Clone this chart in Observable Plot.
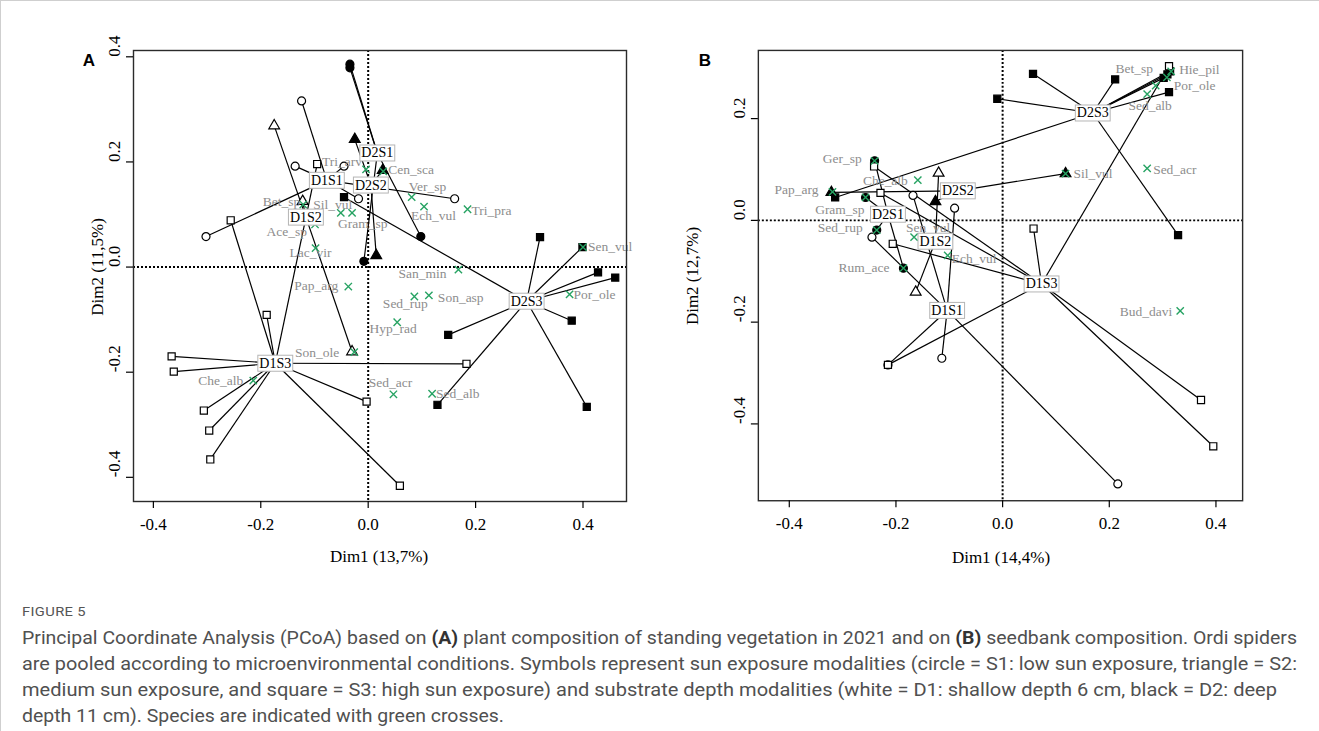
<!DOCTYPE html>
<html>
<head>
<meta charset="utf-8">
<script src="https://cdn.jsdelivr.net/npm/d3@7"></script>
<script src="https://cdn.jsdelivr.net/npm/@observablehq/plot@0.6"></script>
<style>
  html, body { margin: 0; padding: 0; background: #fff; }
  #page { position: relative; width: 1319px; height: 731px; overflow: hidden; border-top: 1px solid #cfcfcf; border-left: 1px solid #cfcfcf; box-sizing: border-box; }
  .panel { position: absolute; top: 0; }
  .plabel { position: absolute; font-family: "Liberation Sans", Arial, sans-serif; font-weight: bold; font-size: 17px; transform: translate(-50%, -50%); }
  .atitle { position: absolute; font-family: "Liberation Serif", serif; font-size: 17px; white-space: nowrap; transform: translate(-50%, -50%); }
  .atitle.rot { transform: translate(-50%, -50%) rotate(-90deg); }
  .cap { position: absolute; left: 21px; white-space: nowrap; font-family: "Liberation Sans Narrow", "Roboto", sans-serif; color: #505050; transform-origin: 0 50%; }
  .capline { font-size: 17.5px; }
  .capline b { color: #333; }
  .fig { font-size: 12.5px; letter-spacing: 0.3px; color: #555; }
</style>
</head>
<body>
<div id="page">
  <div class="panel" id="panelA" style="left:0px"></div>
  <div class="panel" id="panelB" style="left:660px"></div>
  <div class="plabel" style="left:88px; top:60px">A</div>
  <div class="plabel" style="left:704px; top:60px">B</div>
  <div class="atitle rot" style="left:97px; top:266px">Dim2 (11,5%)</div>
  <div class="atitle" style="left:378px; top:556px">Dim1 (13,7%)</div>
  <div class="atitle rot" style="left:692px; top:275px">Dim2 (12,7%)</div>
  <div class="atitle" style="left:1000px; top:557px">Dim1 (14,4%)</div>
  <div class="cap fig" style="top:603px" data-w="64">FIGURE 5</div>
  <div class="cap capline" style="top:627px" data-w="1275">Principal Coordinate Analysis (PCoA) based on <b>(A)</b> plant composition of standing vegetation in 2021 and on <b>(B)</b> seedbank composition. Ordi spiders</div>
  <div class="cap capline" style="top:653px" data-w="1275">are pooled according to microenvironmental conditions. Symbols represent sun exposure modalities (circle = S1: low sun exposure, triangle = S2:</div>
  <div class="cap capline" style="top:679px" data-w="1255">medium sun exposure, and square = S3: high sun exposure) and substrate depth modalities (white = D1: shallow depth 6 cm, black = D2: deep</div>
  <div class="cap capline" style="top:705px" data-w="482">depth 11 cm). Species are indicated with green crosses.</div>
</div>
<script>
// ---------------- DATA : panel A (standing vegetation) ----------------
const xTicks = [-0.4, -0.2, 0.0, 0.2, 0.4];
const yTicksA = [-0.4, -0.2, 0.0, 0.2, 0.4];
const yTicksB = [-0.4, -0.2, 0.0, 0.2];

const centroidNamesA = ["D1S1", "D1S2", "D2S1", "D2S2", "D1S3", "D2S3"];
const centroidXA = [-0.077, -0.116, 0.017, 0.005, -0.173, 0.295];
const centroidYA = [0.165, 0.095, 0.217, 0.156, -0.183, -0.065];

const memberGroupA = [
  "D1S1","D1S1","D1S1","D1S1","D1S1","D1S1",
  "D1S2","D1S2","D1S2",
  "D2S1","D2S1","D2S1","D2S1",
  "D2S2","D2S2","D2S2",
  "D1S3","D1S3","D1S3","D1S3","D1S3","D1S3","D1S3","D1S3","D1S3","D1S3","D1S3",
  "D2S3","D2S3","D2S3","D2S3","D2S3","D2S3","D2S3","D2S3","D2S3"
];
const memberXA = [
  -0.124, -0.136, -0.045, -0.302, -0.018, 0.161,
  -0.175, -0.122, -0.030,
  -0.034, -0.034, -0.008, 0.098,
  -0.025, 0.027, 0.015,
  -0.256, -0.095, -0.189, -0.366, -0.362, -0.306, -0.296, -0.294, -0.003, 0.183, 0.059,
  0.320, 0.399, 0.428, 0.460, 0.379, 0.149, 0.129, 0.407, -0.045
];
const memberYA = [
  0.316, 0.192, 0.192, 0.058, 0.130, 0.130,
  0.269, 0.125, -0.161,
  0.386, 0.379, 0.011, 0.058,
  0.243, 0.184, 0.022,
  0.089, 0.196, -0.091, -0.170, -0.199, -0.273, -0.311, -0.366, -0.256, -0.184, -0.416,
  0.057, 0.038, -0.010, -0.020, -0.102, -0.129, -0.262, -0.266, 0.133
];

const speciesA = ["Tri_arv","Cen_sca","Ver_sp","Ech_vul","Tri_pra","Bet_sp","Sil_vul","Gram_sp","Ace_sp","Lac_vir","Pap_arg","Son_ole","Che_alb","Hyp_rad","San_min","Sed_rup","Son_asp","Sed_acr","Sed_alb","Por_ole","Sen_vul"];
const speciesXA = [-0.004, 0.028, 0.081, 0.104, 0.185, -0.121, -0.051, -0.030, -0.099, -0.098, -0.037, -0.026, -0.214, 0.054, 0.168, 0.086, 0.113, 0.047, 0.119, 0.375, 0.400];
const speciesYA = [0.186, 0.182, 0.133, 0.115, 0.110, 0.119, 0.103, 0.103, 0.081, 0.036, -0.037, -0.162, -0.216, -0.105, -0.005, -0.056, -0.054, -0.242, -0.241, -0.052, 0.038];

// ---------------- DATA : panel B (seedbank) ----------------
const centroidNamesB = ["D2S3", "D2S2", "D2S1", "D1S2", "D1S3", "D1S1"];
const centroidXB = [0.169, -0.084, -0.215, -0.126, 0.073, -0.104];
const centroidYB = [0.211, 0.058, 0.012, -0.041, -0.125, -0.177];

const memberGroupB = [
  "D2S1","D2S1","D2S1","D2S1",
  "D2S2","D2S2","D2S2",
  "D2S3","D2S3","D2S3","D2S3","D2S3","D2S3","D2S3","D2S3","D2S3",
  "D1S2","D1S2",
  "D1S1","D1S1","D1S1","D1S1","D1S1","D1S1",
  "D1S3","D1S3","D1S3","D1S3","D1S3","D1S3","D1S3","D1S3"
];
const memberXB = [
  -0.240, -0.257, -0.236, -0.186,
  -0.321, -0.126, 0.118,
  -0.314, -0.010, 0.057, 0.211, 0.302, 0.309, 0.314, 0.312, 0.329,
  -0.120, -0.163,
  -0.168, -0.090, -0.245, -0.114, 0.216, -0.215,
  -0.241, -0.229, -0.206, 0.058, 0.312, 0.372, 0.395, -0.215
];
const memberYB = [
  0.117, 0.045, -0.019, -0.094,
  0.055, 0.037, 0.092,
  0.045, 0.239, 0.288, 0.277, 0.280, 0.287, 0.293, 0.252, -0.029,
  0.093, -0.141,
  0.049, 0.024, -0.033, -0.271, -0.518, -0.284,
  0.106, 0.054, -0.046, -0.016, 0.303, -0.353, -0.444, -0.284
];

const speciesB = ["Ger_sp","Che_alb","Pap_arg","Gram_sp","Sed_rup","Rum_ace","Sen_vul","Ech_vul","Sil_vul","Sed_acr","Sed_alb","Por_ole","Bet_sp","Hie_pil","Bud_davi"];
const speciesXB = [-0.240, -0.159, -0.319, -0.257, -0.236, -0.186, -0.166, -0.103, 0.118, 0.271, 0.271, 0.287, 0.308, 0.316, 0.333];
const speciesYB = [0.117, 0.079, 0.056, 0.045, -0.019, -0.094, -0.033, -0.069, 0.092, 0.102, 0.248, 0.265, 0.281, 0.293, -0.178];

// ---------------- label placement (style: pixel offsets, anchor) ----------------
const placeA = {
  Tri_arv: [-4, -8, "end"], Cen_sca: [5, -2, "start"], Ver_sp: [-3, -10, "start"],
  Ech_vul: [-13, 9, "start"], Tri_pra: [4, 1, "start"], Bet_sp: [-3, -3, "end"],
  Sil_vul: [-8, -8, "middle"], Gram_sp: [-14, 11, "start"], Ace_sp: [-8, 7, "end"],
  Lac_vir: [-26, 5, "start"], Pap_arg: [-10, -1, "end"], Son_ole: [-15, 0, "end"],
  Che_alb: [-10, 0, "end"], Hyp_rad: [-4, 6, "middle"], San_min: [-12, 4, "end"],
  Sed_rup: [-9, 7, "middle"], Son_asp: [9, 2, "start"], Sed_acr: [-3, -12, "middle"],
  Sed_alb: [4, 0, "start"], Por_ole: [4, 0, "start"], Sen_vul: [5, 0, "start"]
};
const placeB = {
  Ger_sp: [-13, -2, "end"], Che_alb: [-10, 0, "end"], Pap_arg: [-14, -2, "end"],
  Gram_sp: [-1, 12, "end"], Sed_rup: [-14, -2, "end"], Rum_ace: [-14, -1, "end"],
  Sen_vul: [-8, -10, "start"], Ech_vul: [4, 3, "start"], Sil_vul: [8, 0, "start"],
  Sed_acr: [6, 1, "start"], Sed_alb: [3, 12, "middle"], Por_ole: [18, 0, "start"],
  Bet_sp: [-14, -9, "end"], Hie_pil: [8, -2, "start"], Bud_davi: [-8, 1, "end"]
};

// ---------------- helpers ----------------
const fmt = d => d.toFixed(1);
const shapeOf = g => g.endsWith("S1") ? "circle" : g.endsWith("S2") ? "triangle" : "square";
const fillOf = g => g.startsWith("D2") ? "black" : "white";

function buildPanel(cfg) {
  const cent = cfg.cNames.map((n, i) => ({name: n, x: cfg.cX[i], y: cfg.cY[i]}));
  const cMap = Object.fromEntries(cent.map(c => [c.name, c]));
  const members = cfg.mGroup.map((g, i) => ({group: g, x: cfg.mX[i], y: cfg.mY[i], cx: cMap[g].x, cy: cMap[g].y}));
  const species = cfg.sNames.map((n, i) => ({name: n, x: cfg.sX[i], y: cfg.sY[i]}));

  const speciesLabels = species.map(s => {
    const p = cfg.place[s.name] || [4, 0, "start"];
    return Plot.text([s], {x: "x", y: "y", text: "name", dx: p[0], dy: p[1], textAnchor: p[2],
      fill: "#8d8d8d", fontSize: 13.5});
  });

  const svg = Plot.plot({
    width: cfg.width, height: cfg.height,
    marginLeft: cfg.ml, marginRight: cfg.mr, marginTop: cfg.mt, marginBottom: cfg.mb,
    style: {fontFamily: "Liberation Serif, serif", fontSize: "17px", color: "black", background: "white", overflow: "visible"},
    x: {domain: cfg.xDomain},
    y: {domain: cfg.yDomain},
    marks: [
      Plot.ruleX([0], {stroke: "black", strokeWidth: 2, strokeDasharray: "2,2"}),
      Plot.ruleY([0], {stroke: "black", strokeWidth: 2, strokeDasharray: "2,2"}),
      Plot.link(members, {x1: "cx", y1: "cy", x2: "x", y2: "y", stroke: "black", strokeWidth: 1.2}),
      Plot.dot(members, {x: "x", y: "y", symbol: d => shapeOf(d.group), fill: d => fillOf(d.group), stroke: "black", strokeWidth: 1.2, r: 4}),
      Plot.dot(species, {x: "x", y: "y", symbol: "times", stroke: "#27a363", strokeWidth: 1.4, r: 3.4}),
      ...speciesLabels,
      Plot.frame({stroke: "#2b2b2b", strokeWidth: 1.4}),
      Plot.axisX({ticks: xTicks, tickSize: 7, tickPadding: 9, tickFormat: fmt, label: null, fontSize: 17, strokeWidth: 1.2}),
      Plot.axisY({ticks: cfg.yTicks, tickSize: 7, tickFormat: () => "", label: null, strokeWidth: 1.2}),
      Plot.text(cfg.yTicks, {y: d => d, text: fmt, frameAnchor: "left", dx: -19, rotate: -90, fontSize: 17, fill: "black"}),
      Plot.text(cent, {x: "x", y: "y", text: "name", fontSize: 14, fill: "black"})
    ]
  });
  document.getElementById(cfg.el).appendChild(svg);
  // boxes behind the centroid labels (last text mark)
  const groups = svg.querySelectorAll('g[aria-label="text"]');
  const last = groups[groups.length - 1];
  last.querySelectorAll("text").forEach(t => {
    const b = t.getBBox();
    const r = document.createElementNS("http://www.w3.org/2000/svg", "rect");
    r.setAttribute("x", b.x - 1.5);
    r.setAttribute("y", b.y - 0.5);
    r.setAttribute("width", b.width + 3);
    r.setAttribute("height", b.height + 1);
    r.setAttribute("fill", "white");
    r.setAttribute("stroke", "#b5b5b5");
    r.setAttribute("stroke-width", "1");
    const tr = t.getAttribute("transform");
    if (tr) r.setAttribute("transform", tr);
    t.parentNode.insertBefore(r, t);
  });
}

buildPanel({
  el: "panelA", width: 650, height: 575, ml: 132, mr: 25, mt: 49, mb: 75,
  xDomain: [-0.437, 0.481], yDomain: [-0.446, 0.412], yTicks: yTicksA,
  cNames: centroidNamesA, cX: centroidXA, cY: centroidYA,
  mGroup: memberGroupA, mX: memberXA, mY: memberYA,
  sNames: speciesA, sX: speciesXA, sY: speciesYA, place: placeA
});
buildPanel({
  el: "panelB", width: 659, height: 575, ml: 97, mr: 77, mt: 49, mb: 75,
  xDomain: [-0.458, 0.450], yDomain: [-0.551, 0.334], yTicks: yTicksB,
  cNames: centroidNamesB, cX: centroidXB, cY: centroidYB,
  mGroup: memberGroupB, mX: memberXB, mY: memberYB,
  sNames: speciesB, sX: speciesXB, sY: speciesYB, place: placeB
});

// fit caption lines to the reference widths
document.querySelectorAll(".cap").forEach(el => {
  const target = +el.dataset.w;
  const w = el.getBoundingClientRect().width;
  if (w > 0) el.style.transform = `scaleX(${target / w})`;
});
</script>
</body>
</html>
